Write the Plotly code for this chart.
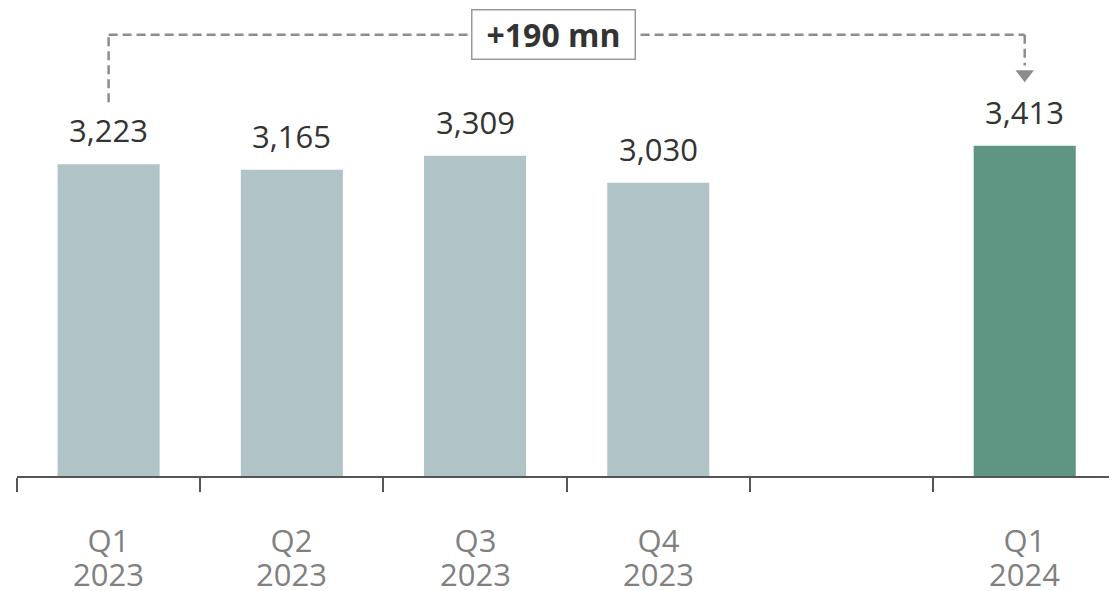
import plotly.graph_objects as go

# Quarterly figures (mn); the blank slot separates the prior-year quarters from the latest one
quarter_names = ["Q1", "Q2", "Q3", "Q4", "", "Q1"]
years = ["2023", "2023", "2023", "2023", "", "2024"]
values = [3223, 3165, 3309, 3030, None, 3413]
bar_colors = ["#B0C4C8", "#B0C4C8", "#B0C4C8", "#B0C4C8", "#B0C4C8", "#5F9683"]
change_label = "+190 mn"

categories = [f"{q} {y}".strip() or " " for q, y in zip(quarter_names, years)]

FONT = "Open Sans"
Y_MAX = 4920

fig = go.Figure()
fig.add_trace(go.Bar(
    x=categories,
    y=values,
    marker=dict(color=bar_colors, line=dict(width=0)),
    width=0.557,
    hoverinfo="skip",
))

# value labels above each bar
for c, v in zip(categories, values):
    if v is None:
        continue
    fig.add_annotation(
        x=c, y=v, xref="x", yref="y",
        text=f"{v:,}",
        showarrow=False,
        yanchor="bottom",
        yshift=11,
        font=dict(family=FONT, size=31, color="#333333"),
    )

# two-line category labels under the axis; the base size sets a tight line pitch,
# the spans set the glyph size
for c, q, yr in zip(categories, quarter_names, years):
    if not q:
        continue
    fig.add_annotation(
        x=c, y=0, xref="x", yref="paper",
        text=(f"<span style='font-size:31px'>{q}</span><br>"
              f"<span style='font-size:31px'>{yr}</span>"),
        showarrow=False,
        yanchor="middle",
        yshift=-81,
        font=dict(family=FONT, size=26, color="#808080"),
    )

# dashed bracket linking first and last bars
first_i, last_i = 0, len(categories) - 1
bracket_y = 4560
dash_line = dict(color="#8C8C8C", width=2.5, dash="9px,5px")
fig.add_shape(type="line", xref="x", yref="y",
              x0=first_i, x1=first_i, y0=values[first_i] + 640, y1=bracket_y, line=dash_line)
fig.add_shape(type="line", xref="x", yref="y",
              x0=first_i, x1=last_i, y0=bracket_y, y1=bracket_y, line=dash_line)
fig.add_shape(type="line", xref="x", yref="y",
              x0=last_i, x1=last_i, y0=bracket_y, y1=values[last_i] + 830, line=dash_line)
fig.add_trace(go.Scatter(
    x=[categories[last_i]], y=[values[last_i] + 740],
    mode="markers",
    marker=dict(symbol="triangle-down", size=16, color="#8C8C8C", line=dict(width=0)),
    hoverinfo="skip",
))

# change box on the bracket
fig.add_annotation(
    x=2.43, y=bracket_y, xref="x", yref="y",
    text=f"<b>{change_label}</b>",
    showarrow=False,
    font=dict(family=FONT, size=32, color="#333333"),
    bgcolor="white",
    bordercolor="#999999",
    borderwidth=1.5,
    borderpad=6,
    width=150,
    height=36,
)

fig.update_layout(
    width=1109, height=591,
    margin=dict(l=17, r=0, t=0, b=115),
    paper_bgcolor="white",
    plot_bgcolor="white",
    showlegend=False,
    xaxis=dict(
        type="category",
        range=[-0.5, 5.46],
        showline=True, linecolor="#555555", linewidth=1.5,
        ticks="outside", tickson="boundaries", ticklen=14, tickwidth=1.5, tickcolor="#555555",
        showticklabels=False,
        showgrid=False, zeroline=False,
    ),
    yaxis=dict(
        range=[0, Y_MAX], visible=False, showgrid=False, zeroline=False,
    ),
)

fig.write_html("out.html")
